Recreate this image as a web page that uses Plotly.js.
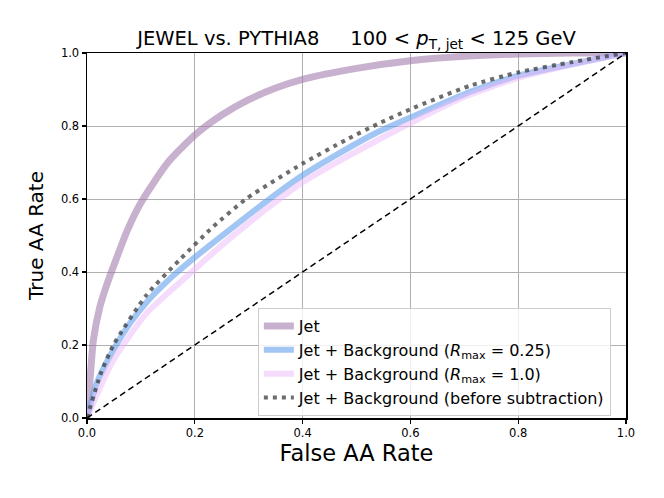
<!DOCTYPE html>
<html><head><meta charset="utf-8">
<script src="https://cdn.plot.ly/plotly-3.0.1.min.js"></script>
<style>body{margin:0;background:#fff}#plot{width:664px;height:498px}</style>
</head><body><div id="plot"></div>
<script>
// Jet
const jetX = [0, 0.003, 0.006, 0.012, 0.024, 0.036, 0.049, 0.075, 0.1, 0.15, 0.2, 0.25, 0.3, 0.35, 0.4, 0.5, 0.6, 0.7, 0.8, 0.9, 1.0];
const jetY = [0, 0.06, 0.113, 0.215, 0.305, 0.362, 0.415, 0.515, 0.59, 0.70, 0.775, 0.83, 0.872, 0.904, 0.928, 0.958, 0.979, 0.991, 0.997, 1.0, 1.0];
// Jet + Background (Rmax = 0.25)
const bg025X = [0, 0.018, 0.049, 0.08, 0.111, 0.16, 0.2, 0.265, 0.334, 0.4, 0.47, 0.535, 0.6, 0.71, 0.8, 0.9, 1.0];
const bg025Y = [0, 0.095, 0.187, 0.26, 0.318, 0.39, 0.44, 0.516, 0.595, 0.665, 0.727, 0.78, 0.823, 0.893, 0.938, 0.97, 1.0];
// Jet + Background (Rmax = 1.0)
const bg10X = [0, 0.02, 0.049, 0.111, 0.191, 0.265, 0.334, 0.4, 0.47, 0.544, 0.6, 0.7, 0.8, 0.9, 1.0];
const bg10Y = [0, 0.07, 0.159, 0.288, 0.396, 0.492, 0.574, 0.646, 0.706, 0.765, 0.808, 0.88, 0.932, 0.968, 1.0];
// Jet + Background (before subtraction)
const rawX = [0, 0.025, 0.049, 0.111, 0.173, 0.234, 0.296, 0.4, 0.482, 0.54, 0.6, 0.71, 0.8, 0.9, 1.0];
const rawY = [0, 0.12, 0.2, 0.338, 0.435, 0.524, 0.601, 0.697, 0.763, 0.806, 0.846, 0.91, 0.947, 0.975, 1.0];
// Random classifier diagonal
const diagX = [0, 1];
const diagY = [0, 1];
const tickVals = [0, 0.2, 0.4, 0.6, 0.8, 1.0];
const tickText = ['0.0', '0.2', '0.4', '0.6', '0.8', '1.0'];

const sp = {shape: 'spline', smoothing: 0.6};
const traces = [
  {x: jetX, y: jetY, mode: 'lines', name: 'Jet', line: Object.assign({color: 'rgba(160,120,170,0.58)', width: 7}, sp)},
  {x: bg025X, y: bg025Y, mode: 'lines', name: 'Jet + Background (<i>R</i><sub>max</sub> = 0.25)', line: Object.assign({color: 'rgba(100,160,235,0.6)', width: 6}, sp)},
  {x: bg10X, y: bg10Y, mode: 'lines', name: 'Jet + Background (<i>R</i><sub>max</sub> = 1.0)', line: Object.assign({color: 'rgba(235,185,250,0.5)', width: 6}, sp)},
  {x: rawX, y: rawY, mode: 'lines', name: 'Jet + Background (before subtraction)', line: Object.assign({color: 'rgba(60,60,60,0.75)', width: 4, dash: '4px,5px'}, sp)},
  {x: diagX, y: diagY, mode: 'lines', showlegend: false, line: {color: 'black', width: 1.5, dash: '6px,4px'}}
];

const axisCommon = {
  range: [0, 1], tickvals: tickVals, ticktext: tickText,
  ticks: 'outside', ticklen: 4, tickwidth: 1.2, tickcolor: 'black',
  showline: true, linecolor: 'black', linewidth: 1.5, mirror: true,
  showgrid: true, gridcolor: '#b0b0b0', gridwidth: 1, zeroline: false,
  tickfont: {size: 11.5, color: 'black'}
};

const layout = {
  width: 664, height: 498,
  margin: {l: 87, r: 38, t: 53, b: 80},
  paper_bgcolor: 'white', plot_bgcolor: 'white',
  font: {family: 'DejaVu Sans', color: 'black'},
  title: {text: 'JEWEL vs. PYTHIA8     100 < <i>p</i><sub>T, jet</sub> < 125 GeV', x: 0.5, xref: 'paper', y: 0.924, yanchor: 'middle', font: {size: 19.5}},
  xaxis: Object.assign({}, axisCommon, {title: {text: 'False AA Rate', font: {size: 22.5}, standoff: 6}}),
  yaxis: Object.assign({}, axisCommon, {title: {text: 'True AA Rate', font: {size: 20}, standoff: 12}}),
  legend: {x: 0.317, y: 0.301, xanchor: 'left', yanchor: 'top', bgcolor: 'rgba(255,255,255,0.8)', bordercolor: '#cccccc', borderwidth: 1, font: {size: 16}, tracegroupgap: 0},
  showlegend: true
};

Plotly.newPlot('plot', traces, layout, {staticPlot: true});
</script></body></html>
